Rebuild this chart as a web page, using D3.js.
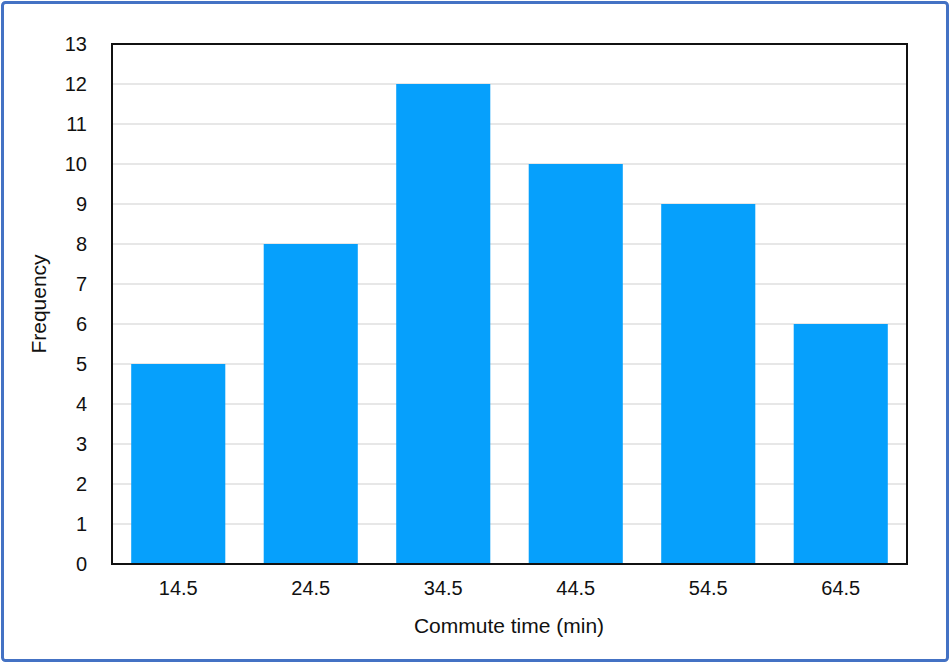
<!DOCTYPE html>
<html>
<head>
<meta charset="utf-8">
<script src="https://cdn.jsdelivr.net/npm/d3@7"></script>
<style>
  body { margin: 0; background: #fff; }
  svg { display: block; font-family: "Liberation Sans", Arial, sans-serif; }
</style>
</head>
<body>
<div id="vis"></div>
<script>
// chart data
const CATEGORIES = ["14.5", "24.5", "34.5", "44.5", "54.5", "64.5"]
const FREQUENCY = [5, 8, 12, 10, 9, 6]
const Y_TICKS = d3.range(0, 14)

const FRAME_WIDTH = 950
const FRAME_HEIGHT = 664
const MARGINS = {left: 112, right: 43, top: 44, bottom: 100}
const VIS_WIDTH = FRAME_WIDTH - MARGINS.left - MARGINS.right
const VIS_HEIGHT = FRAME_HEIGHT - MARGINS.top - MARGINS.bottom

const svg = d3.select('#vis')
              .append('svg')
              .attr('width', FRAME_WIDTH)
              .attr('height', FRAME_HEIGHT)

// outer blue border
svg.append('rect')
   .attr('x', 2.5).attr('y', 2.5)
   .attr('width', FRAME_WIDTH - 5).attr('height', FRAME_HEIGHT - 6)
   .attr('rx', 3)
   .attr('fill', 'none')
   .attr('stroke', '#4472c4')
   .attr('stroke-width', 3)

const x = d3.scaleBand()
            .domain(CATEGORIES)
            .range([0, VIS_WIDTH])
            .paddingInner(0.29)
            .paddingOuter(0.145)

const y = d3.scaleLinear()
            .domain([0, 13])
            .range([VIS_HEIGHT, 0])

const g = svg.append('g')
             .attr('transform', 'translate(' + MARGINS.left + ',' + MARGINS.top + ')')

// gridlines
g.selectAll('.grid')
 .data(Y_TICKS.filter(d => d > 0 && d < 13))
 .enter()
 .append('line')
   .attr('x1', 0).attr('x2', VIS_WIDTH)
   .attr('y1', d => y(d)).attr('y2', d => y(d))
   .attr('stroke', '#cfcfcf')
   .attr('stroke-width', 1)

// bars
g.selectAll('.bar')
 .data(FREQUENCY)
 .enter()
 .append('rect')
   .attr('x', (d, i) => x(CATEGORIES[i]))
   .attr('y', d => y(d))
   .attr('width', x.bandwidth())
   .attr('height', d => VIS_HEIGHT - y(d))
   .attr('fill', '#06a0fc')

// plot frame
g.append('rect')
 .attr('width', VIS_WIDTH).attr('height', VIS_HEIGHT)
 .attr('fill', 'none')
 .attr('stroke', '#111')
 .attr('stroke-width', 2)

// y axis
const yAxis = g.append('g')
               .call(d3.axisLeft(y).tickValues(Y_TICKS).tickSize(0).tickPadding(25))
yAxis.select('.domain').remove()
yAxis.selectAll('text').attr('font-size', '20px').attr('fill', '#111').attr('font-family', null)

// x axis
const xAxis = g.append('g')
               .attr('transform', 'translate(0,' + VIS_HEIGHT + ')')
               .call(d3.axisBottom(x).tickSize(0).tickPadding(17))
xAxis.select('.domain').remove()
xAxis.selectAll('text').attr('font-size', '20px').attr('fill', '#111').attr('font-family', null)

// axis titles
svg.append('text')
   .attr('x', 509)
   .attr('y', 633)
   .attr('text-anchor', 'middle')
   .attr('font-size', '21px')
   .attr('fill', '#111')
   .text('Commute time (min)')

svg.append('text')
   .attr('transform', 'translate(46,' + (MARGINS.top + VIS_HEIGHT / 2) + ') rotate(-90)')
   .attr('text-anchor', 'middle')
   .attr('font-size', '21px')
   .attr('fill', '#111')
   .text('Frequency')
</script>
</body>
</html>
